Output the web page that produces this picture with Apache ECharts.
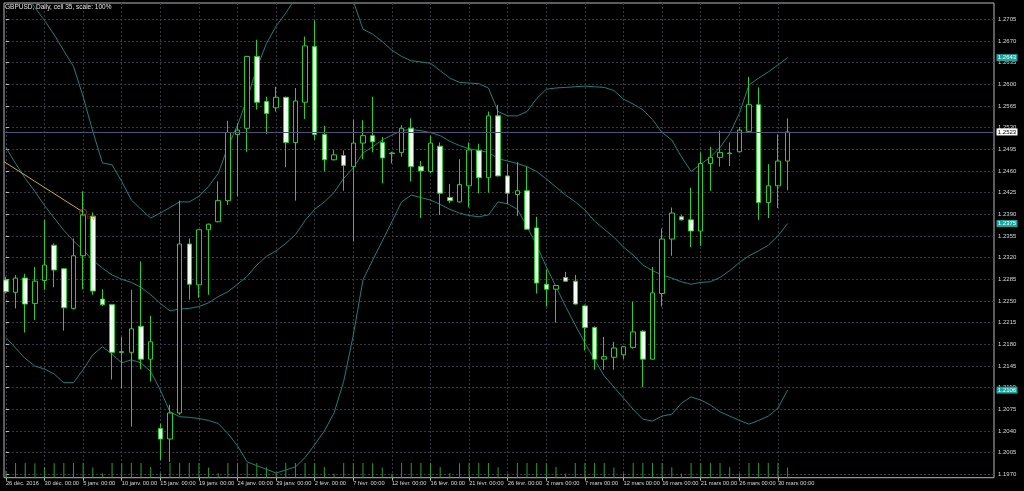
<!DOCTYPE html>
<html><head><meta charset="utf-8">
<script src="https://cdn.jsdelivr.net/npm/echarts@6/dist/echarts.min.js"></script>
<style>html,body{margin:0;padding:0;background:#000;}#c{width:1024px;height:491px;}</style>
</head><body><div id="c"></div>
<script>
const dates = ['2016-12-26','2016-12-27','2016-12-28','2016-12-29','2016-12-30',
'2017-01-02','2017-01-03','2017-01-04','2017-01-05','2017-01-06',
'2017-01-08','2017-01-09','2017-01-10','2017-01-11','2017-01-12','2017-01-13',
'2017-01-15','2017-01-16','2017-01-17','2017-01-18','2017-01-19','2017-01-20',
'2017-01-22','2017-01-23','2017-01-24','2017-01-25','2017-01-26','2017-01-27',
'2017-01-29','2017-01-30','2017-01-31','2017-02-01','2017-02-02','2017-02-03',
'2017-02-05','2017-02-06','2017-02-07','2017-02-08','2017-02-09','2017-02-10',
'2017-02-12','2017-02-13','2017-02-14','2017-02-15','2017-02-16','2017-02-17',
'2017-02-19','2017-02-20','2017-02-21','2017-02-22','2017-02-23','2017-02-24',
'2017-02-26','2017-02-27','2017-02-28','2017-03-01','2017-03-02','2017-03-03',
'2017-03-05','2017-03-06','2017-03-07','2017-03-08','2017-03-09','2017-03-10',
'2017-03-12','2017-03-13','2017-03-14','2017-03-15','2017-03-16','2017-03-17',
'2017-03-19','2017-03-20','2017-03-21','2017-03-22','2017-03-23','2017-03-24',
'2017-03-26','2017-03-27','2017-03-28','2017-03-29','2017-03-30','2017-03-31'];

const open = [1.2284,1.2264,1.2287,1.2246,1.2283,1.2340,1.2302,1.2238,1.2323,1.2387,
1.2253,1.2244,1.2168,1.2167,1.2209,1.2156,1.2044,1.2027,1.2069,1.2342,
1.2276,1.2365,1.2378,1.2412,1.2519,1.2529,1.2645,1.2572,1.2562,1.2579,
1.2506,1.2571,1.2661,1.2519,1.2478,1.2485,1.2467,1.2505,1.2517,1.2506,
1.2489,1.2490,1.2529,1.2467,1.2459,1.2500,1.2417,1.2410,1.2436,1.2493,
1.2449,1.2549,1.2452,1.2422,1.2428,1.2368,1.2277,1.2269,1.2288,1.2282,
1.2242,1.2207,1.2156,1.2159,1.2163,1.2175,1.2201,1.2156,1.2262,1.2350,
1.2386,1.2381,1.2363,1.2472,1.2482,1.2488,1.2491,1.2524,1.2567,1.2409,
1.2436,1.2476];
const close = [1.2265,1.2287,1.2245,1.2282,1.2308,1.2300,1.2239,1.2323,1.2389,1.2266,
1.2244,1.2167,1.2167,1.2205,1.2156,1.2184,1.2027,1.2069,1.2342,1.2277,
1.2365,1.2374,1.2412,1.2522,1.2526,1.2645,1.2571,1.2553,1.2579,1.2506,
1.2573,1.2662,1.2519,1.2478,1.2486,1.2469,1.2505,1.2517,1.2507,1.2481,
1.2488,1.2529,1.2467,1.2460,1.2505,1.2424,1.2412,1.2438,1.2494,1.2449,
1.2549,1.2452,1.2424,1.2428,1.2366,1.2279,1.2269,1.2275,1.2282,1.2245,
1.2207,1.2156,1.2160,1.2174,1.2176,1.2200,1.2156,1.2263,1.2350,1.2392,
1.2381,1.2363,1.2472,1.2482,1.2490,1.2489,1.2526,1.2567,1.2409,1.2436,
1.2476,1.2523];
const low = [1.2262,1.2238,1.2199,1.2219,1.2268,1.2272,1.2202,1.2236,1.2269,1.2260,
1.2242,1.2123,1.2109,1.2047,1.2140,1.2120,1.1993,1.1990,1.2066,1.2252,
1.2255,1.2260,1.2377,1.2405,1.2419,1.2491,1.2559,1.2520,1.2556,1.2466,
1.2412,1.2544,1.2510,1.2459,1.2477,1.2428,1.2346,1.2479,1.2490,1.2440,
1.2472,1.2483,1.2443,1.2384,1.2456,1.2389,1.2408,1.2409,1.2401,1.2424,
1.2425,1.2451,1.2407,1.2387,1.2365,1.2262,1.2241,1.2215,1.2281,1.2244,
1.2170,1.2139,1.2139,1.2139,1.2156,1.2173,1.2111,1.2155,1.2241,1.2323,
1.2380,1.2337,1.2339,1.2428,1.2467,1.2468,1.2490,1.2522,1.2381,1.2384,
1.2400,1.2429];
const high = [1.2289,1.2292,1.2294,1.2305,1.2381,1.2343,1.2303,1.2351,1.2427,1.2393,
1.2269,1.2245,1.2192,1.2268,1.2314,1.2226,1.2052,1.2082,1.2412,1.2351,
1.2366,1.2375,1.2443,1.2541,1.2537,1.2646,1.2672,1.2580,1.2596,1.2580,
1.2594,1.2677,1.2703,1.2533,1.2494,1.2493,1.2543,1.2542,1.2580,1.2515,
1.2491,1.2534,1.2545,1.2476,1.2517,1.2506,1.2439,1.2479,1.2506,1.2504,
1.2556,1.2567,1.2471,1.2474,1.2467,1.2386,1.2301,1.2276,1.2297,1.2292,
1.2244,1.2209,1.2192,1.2184,1.2177,1.2249,1.2203,1.2305,1.2367,1.2401,
1.2389,1.2433,1.2490,1.2499,1.2525,1.2506,1.2531,1.2612,1.2595,1.2471,
1.2519,1.2545];
const volume = [48,100,100,99,72,98,100,100,100,70,
30,100,99,100,100,73,32,100,100,100,
100,70,30,100,100,99,100,71,33,100,
100,100,100,72,28,100,100,100,99,70,
27,100,100,100,100,72,30,99,100,100,
100,71,29,100,100,100,100,72,28,100,
100,100,100,70,30,100,100,100,100,71,
28,100,100,100,100,71,30,100,100,100,
100,70];
const bbUpper = [1.2789,1.2767,1.2746,1.2724,1.2703,1.2680,1.2654,1.2629,1.2580,1.2524,
1.2473,1.2470,1.2443,1.2413,1.2398,1.2384,1.2392,1.2401,1.2410,1.2410,
1.2419,1.2435,1.2456,1.2499,1.2534,1.2577,1.2626,1.2666,1.2694,1.2715,
1.2739,1.2758,1.2769,1.2769,1.2760,1.2747,1.2734,1.2689,1.2681,1.2669,
1.2655,1.2645,1.2638,1.2636,1.2634,1.2622,1.2610,1.2603,1.2602,1.2601,
1.2594,1.2556,1.2549,1.2549,1.2556,1.2577,1.2592,1.2594,1.2595,1.2596,
1.2597,1.2596,1.2595,1.2590,1.2576,1.2568,1.2559,1.2543,1.2522,1.2510,
1.2483,1.2459,1.2471,1.2482,1.2498,1.2520,1.2553,1.2599,1.2610,1.2620,
1.2631,1.2643];
const bbMiddle = [1.2498,1.2472,1.2448,1.2427,1.2404,1.2384,1.2364,1.2347,1.2332,1.2316,
1.2303,1.2292,1.2285,1.2280,1.2272,1.2260,1.2246,1.2234,1.2237,1.2238,
1.2241,1.2247,1.2257,1.2265,1.2277,1.2290,1.2308,1.2322,1.2331,1.2343,
1.2357,1.2380,1.2398,1.2410,1.2425,1.2448,1.2465,1.2489,1.2499,1.2510,
1.2518,1.2525,1.2527,1.2525,1.2522,1.2517,1.2508,1.2501,1.2496,1.2493,
1.2490,1.2480,1.2476,1.2472,1.2467,1.2459,1.2447,1.2434,1.2421,1.2410,
1.2397,1.2379,1.2366,1.2353,1.2337,1.2324,1.2308,1.2299,1.2292,1.2287,
1.2281,1.2277,1.2280,1.2281,1.2288,1.2299,1.2312,1.2323,1.2331,1.2340,
1.2355,1.2375];
const bbLower = [1.2191,1.2174,1.2157,1.2145,1.2140,1.2132,1.2118,1.2118,1.2139,1.2163,
1.2176,1.2164,1.2150,1.2155,1.2150,1.2136,1.2106,1.2071,1.2063,1.2062,
1.2060,1.2057,1.2052,1.2036,1.2016,1.1990,1.1984,1.1978,1.1972,1.1977,
1.1982,1.1997,1.2018,1.2040,1.2069,1.2120,1.2195,1.2284,1.2316,1.2347,
1.2378,1.2410,1.2421,1.2417,1.2413,1.2406,1.2398,1.2392,1.2388,1.2386,
1.2389,1.2410,1.2407,1.2398,1.2370,1.2340,1.2305,1.2273,1.2241,1.2211,
1.2182,1.2155,1.2129,1.2111,1.2093,1.2075,1.2059,1.2056,1.2064,1.2067,
1.2085,1.2095,1.2090,1.2082,1.2071,1.2064,1.2057,1.2051,1.2057,1.2064,
1.2077,1.2106];
const yTicks = [1.1970,1.2005,1.2040,1.2075,1.2110,1.2145,1.2180,1.2215,1.2250,1.2285,1.2320,
1.2355,1.2390,1.2425,1.2460,1.2495,1.2530,1.2565,1.2600,1.2635,1.2670,1.2705];
const xTickIndex = [0,4,8,12,16,20,24,28,32,36,40,44,48,52,56,60,64,68,72,76,80];
const xTickLabels = ['26 déc. 2016','30 déc. 00:00','5 janv. 00:00','10 janv. 00:00','15 janv. 00:00',
'19 janv. 00:00','24 janv. 00:00','29 janv. 00:00','2 févr. 00:00','7 févr. 00:00','12 févr. 00:00',
'16 févr. 00:00','21 févr. 00:00','26 févr. 00:00','2 mars 00:00','7 mars 00:00','12 mars 00:00',
'16 mars 00:00','21 mars 00:00','26 mars 00:00','30 mars 00:00'];
const bidPrice = 1.2523;
const trendLine = [[-0.2, 1.2475], [7.95, 1.2394]];
const buySignal = [8, 1.2393];
const titleText = 'GBPUSD, Daily, cell 35, scale: 100%';

const X_MIN = -0.2, X_MAX = 102.39;
const Y_MIN = 1.19645, Y_MAX = 1.27313;
const FONT = 'Liberation Sans, Arial, sans-serif';
const GREEN = '#27d027';
const BAND = '#1d807c';
const GRIDC = '#343944';

const candles = dates.map((d, i) => [i, open[i], close[i], low[i], high[i]]);
const toLine = arr => arr.map((v, i) => [i, v]);
const last = arr => arr[arr.length - 1];

function axisBox(value, bg, fg) {
  return {
    coord: [X_MAX, value],
    symbol: 'rect', symbolSize: [21, 7], symbolOffset: [13, 0],
    itemStyle: { color: bg },
    label: { show: true, position: 'inside', formatter: value.toFixed(4), color: fg, fontSize: 6, fontFamily: FONT }
  };
}

const chart = echarts.init(document.getElementById('c'), null, { renderer: 'canvas' });
chart.setOption({
  backgroundColor: '#000000',
  animation: false,
  title: { text: titleText, left: 5, top: 3.5, padding: 0,
    textStyle: { color: '#e4e4e4', fontSize: 6.5, fontWeight: 'normal', fontFamily: FONT } },
  grid: [
    { left: 4, right: 30, top: 3, bottom: 13.3, show: true, borderColor: '#b8b8b8', borderWidth: 1, backgroundColor: 'transparent' },
    { left: 4, right: 30, top: 463, bottom: 13.3 }
  ],
  xAxis: [
    { type: 'value', gridIndex: 0, min: X_MIN, max: X_MAX,
      axisLine: { show: false },
      axisTick: { show: true, customValues: xTickIndex, length: 3, lineStyle: { color: '#b8b8b8' } },
      axisLabel: { customValues: xTickIndex, formatter: v => xTickLabels[xTickIndex.indexOf(v)],
        align: 'left', margin: 3, color: '#d8d8d8', fontSize: 5.7, fontFamily: FONT },
      splitLine: { show: true, lineStyle: { color: GRIDC, type: [2, 2], width: 1 } } },
    { type: 'value', gridIndex: 1, min: X_MIN, max: X_MAX, show: false }
  ],
  yAxis: [
    { type: 'value', gridIndex: 0, position: 'right', min: Y_MIN, max: Y_MAX,
      axisLine: { show: false },
      axisTick: { show: true, customValues: yTicks, length: 3, lineStyle: { color: '#b8b8b8' } },
      axisLabel: { customValues: yTicks, formatter: v => v.toFixed(4), margin: 4,
        color: '#d8d8d8', fontSize: 6, fontFamily: FONT },
      splitLine: { show: true, lineStyle: { color: GRIDC, type: [2, 2], width: 1 } } },
    { type: 'value', gridIndex: 1, min: 0, max: 100, show: false }
  ],
  series: [
    { name: 'Volume', type: 'bar', xAxisIndex: 1, yAxisIndex: 1, data: toLine(volume),
      barWidth: 1, itemStyle: { color: '#2a9c2a' }, silent: true, z: 1 },
    { name: 'GBPUSD', type: 'candlestick', xAxisIndex: 0, yAxisIndex: 0, data: candles,
      barWidth: 5,
      itemStyle: { color: '#000000', color0: '#f2fff2', borderColor: GREEN, borderColor0: GREEN,
        borderColorDoji: GREEN, borderWidth: 1 },
      markLine: { silent: true, symbol: ['none', 'none'], animation: false, precision: 4,
        lineStyle: { color: '#50507a', type: 'solid', width: 1 }, label: { show: false },
        data: [{ yAxis: bidPrice }] },
      markPoint: { silent: true, animation: false, data: [axisBox(bidPrice, '#ffffff', '#000000')] },
      z: 3 },
    { name: 'BB upper', type: 'line', data: toLine(bbUpper), showSymbol: false, clip: true,
      lineStyle: { color: BAND, width: 1 }, silent: true, z: 2,
      markPoint: { silent: true, animation: false, data: [axisBox(last(bbUpper), '#1fa59e', '#ffffff')] } },
    { name: 'BB middle', type: 'line', data: toLine(bbMiddle), showSymbol: false, clip: true,
      lineStyle: { color: BAND, width: 1 }, silent: true, z: 2,
      markPoint: { silent: true, animation: false, data: [axisBox(last(bbMiddle), '#1fa59e', '#ffffff')] } },
    { name: 'BB lower', type: 'line', data: toLine(bbLower), showSymbol: false, clip: true,
      lineStyle: { color: BAND, width: 1 }, silent: true, z: 2,
      markPoint: { silent: true, animation: false, data: [axisBox(last(bbLower), '#1fa59e', '#ffffff')] } },
    { name: 'Trend', type: 'line', data: trendLine, showSymbol: false, clip: true,
      lineStyle: { color: '#c8b032', width: 1 }, silent: true, z: 4 },
    { name: 'Buy', type: 'scatter', data: [buySignal], symbol: 'circle', symbolSize: 7,
      itemStyle: { color: 'transparent', borderColor: '#e02828', borderWidth: 1 },
      label: { show: true, formatter: 'buy', position: [8, 7], color: '#e03030', fontSize: 5, fontFamily: FONT },
      silent: true, z: 5 }
  ]
});
</script>
</body></html>
